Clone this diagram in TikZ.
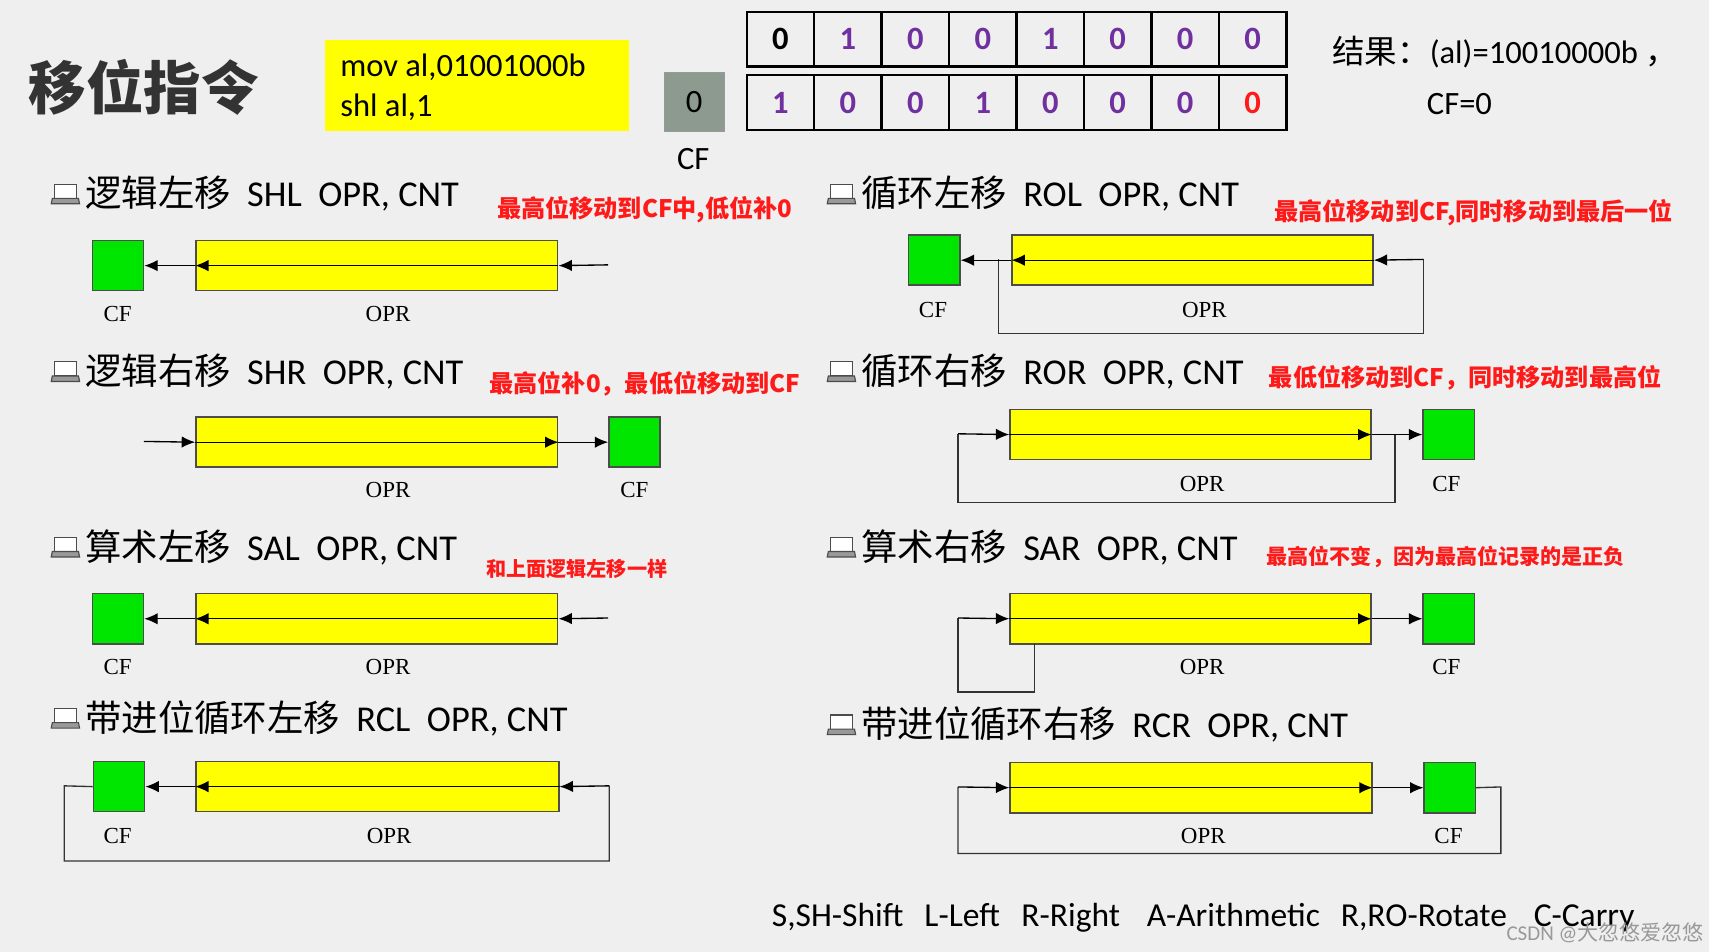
\documentclass[tikz,border=0pt]{standalone}
\usepackage{fontspec}
\setmainfont{Carlito}
\newfontfamily\cjk{Noto Sans CJK SC}
\newfontfamily\tms{Liberation Serif}
\usetikzlibrary{arrows.meta}
\definecolor{bg}{HTML}{EFEFEF}
\definecolor{pur}{HTML}{7030A0}
\definecolor{grn}{HTML}{00E600}
\definecolor{ylw}{HTML}{FFFF00}
\definecolor{redt}{HTML}{FF1A1A}
\definecolor{gbox}{HTML}{8C9A8F}
\begin{document}
\begin{tikzpicture}[x=0.02cm,y=-0.02cm,
  reg/.style={draw=black!70,line width=0.8pt,fill=ylw,minimum width=332*0.02cm,minimum height=46*0.02cm,inner sep=0pt,anchor=north west},
  cf/.style={draw=black!70,line width=0.8pt,fill=grn,minimum width=47*0.02cm,minimum height=46*0.02cm,inner sep=0pt,anchor=north west},
  ar/.style={-{Latex[length=7pt,width=6pt]},line width=0.7pt},
  ln/.style={line width=0.7pt,draw=black!80},
  lab/.style={font=\tms\fontsize{12}{12}\selectfont},
  head/.style={anchor=west,font=\fontsize{19}{19}\selectfont},
  note/.style={anchor=west,text=redt,font=\cjk\bfseries\fontsize{12.6}{12.6}\selectfont},
  leg/.style={anchor=base west,font=\fontsize{17.5}{17.5}\selectfont},
  cell/.style={draw=black,line width=1.2pt,minimum width=61.9*0.02cm,minimum height=50*0.02cm,inner sep=0pt,anchor=north west,font=\bfseries\fontsize{17}{17}\selectfont},
  icon/.pic={\draw[black!70,line width=0.6pt,fill=white] (-10,-9) rectangle (10,4);
    \draw[black!70,line width=0.6pt,fill=black!40] (-12,4) -- (12,4) -- (13,9) -- (-13,9) -- cycle;}
]
\fill[bg] (0,0) rectangle (1568,873);
\useasboundingbox (0,0) rectangle (1568,873);

% title
\node[anchor=center,font=\cjk\bfseries\fontsize{30}{30}\selectfont,text=black!80] (title) at (132,80) {移位指令};
\node[fill=ylw,minimum width=279*0.02cm,minimum height=84*0.02cm,anchor=north west,inner sep=0pt] (code) at (298,36) {};
\node[anchor=west,font=\fontsize{17}{17}\selectfont] (c1) at (306,62) {mov al,01001000b};
\node[anchor=west,font=\fontsize{17}{17}\selectfont] (c2) at (306,98) {shl al,1};
\node[fill=gbox,draw=black!40,minimum width=55*0.02cm,minimum height=54*0.02cm,inner sep=0pt,anchor=north west,font=\fontsize{17}{17}\selectfont] (g0) at (609,66) {0};
\node[font=\fontsize{17}{17}\selectfont] (gcf) at (636,146) {CF};
\foreach \v/\c [count=\i from 0] in {0/black,1/pur,0/pur,0/pur,1/pur,0/pur,0/pur,0/pur}
  \node[cell,text=\c] (a\i) at (684+61.9*\i,10) {\v};
\foreach \v/\c [count=\i from 0] in {1/pur,0/pur,0/pur,1/pur,0/pur,0/pur,0/pur,0/redt}
  \node[cell,text=\c] (b\i) at (684+61.9*\i,68) {\v};
\node[anchor=west,font=\fontsize{17}{17}\selectfont] (res) at (1216,48) {{\cjk 结果：}(al)=10010000b {\cjk ，}};
\node[anchor=west,font=\fontsize{17}{17}\selectfont] (res2) at (1303,95) {CF=0};

% headings
\pic at (60,178) {icon};
\node[head] (h1) at (72,178) {{\cjk 逻辑左移}\ \ SHL\ \ OPR, CNT};
\node[note] (n1) at (450,192) {最高位移动到CF中,低位补0};
\pic at (60,341) {icon};
\node[head] (h2) at (72,341) {{\cjk 逻辑右移}\ \ SHR\ \ OPR, CNT};
\node[note] (n2) at (443,352) {最高位补0，最低位移动到CF};
\pic at (60,502) {icon};
\node[head] (h3) at (72,502) {{\cjk 算术左移}\ \ SAL\ \ OPR, CNT};
\node[note,font=\cjk\bfseries\fontsize{10.5}{10.5}\selectfont] (n3) at (440,522) {和上面逻辑左移一样};
\pic at (60,659) {icon};
\node[head] (h4) at (72,659) {{\cjk 带进位循环左移}\ \ RCL\ \ OPR, CNT};
\pic at (772,178) {icon};
\node[head] (h5) at (784,178) {{\cjk 循环左移}\ \ ROL\ \ OPR, CNT};
\node[note] (n5) at (1163,195) {最高位移动到CF,同时移动到最后一位};
\pic at (772,341) {icon};
\node[head] (h6) at (784,341) {{\cjk 循环右移}\ \ ROR\ \ OPR, CNT};
\node[note] (n6) at (1158,347) {最低位移动到CF，同时移动到最高位};
\pic at (772,502) {icon};
\node[head] (h7) at (784,502) {{\cjk 算术右移}\ \ SAR\ \ OPR, CNT};
\node[note,font=\cjk\bfseries\fontsize{11}{11}\selectfont] (n7) at (1156,511) {最高位不变，因为最高位记录的是正负};
\pic at (772,665) {icon};
\node[head] (h8) at (784,665) {{\cjk 带进位循环右移}\ \ RCR\ \ OPR, CNT};

% SHL
\node[cf] (cf1) at (84,220) {};
\node[reg] (r1) at (179,220) {};
\coordinate (s1) at (558,243);
\draw[ar] (s1) -- (r1.east);
\draw[ar] (r1.east) -- (r1.west);
\draw[ar] (r1.west) -- (cf1.east);
\node[lab] (l1a) at (108,288) {CF};
\node[lab] (l1b) at (356,288) {OPR};

% SHR
\node[reg] (r2) at (179,382) {};
\node[cf] (cf2) at (558,382) {};
\coordinate (s2) at (132,405);
\draw[ar] (s2) -- (r2.west);
\draw[ar] (r2.west) -- (r2.east);
\draw[ar] (r2.east) -- (cf2.west);
\node[lab] (l2a) at (356,450) {OPR};
\node[lab] (l2b) at (582,450) {CF};

% SAL
\node[cf] (cf3) at (84,544) {};
\node[reg] (r3) at (179,544) {};
\coordinate (s3) at (558,567);
\draw[ar] (s3) -- (r3.east);
\draw[ar] (r3.east) -- (r3.west);
\draw[ar] (r3.west) -- (cf3.east);
\node[lab] (l3a) at (108,612) {CF};
\node[lab] (l3b) at (356,612) {OPR};

% RCL
\node[cf] (cf4) at (85,698) {};
\node[reg,minimum width=333*0.02cm] (r4) at (179,698) {};
\draw[ln] (cf4.west) -- (59,721) -- (59,790) -- (559,790) -- (559,721) coordinate (k4);
\draw[ar] (k4) -- (r4.east);
\draw[ar] (r4.east) -- (r4.west);
\draw[ar] (r4.west) -- (cf4.east);
\node[lab] (l4a) at (108,767) {CF};
\node[lab] (l4b) at (357,767) {OPR};

% ROL
\node[cf] (cf5) at (833,215) {};
\node[reg,minimum width=331*0.02cm] (r5) at (928,215) {};
\draw[ln] (916,238) -- (916,306) -- (1306,306) -- (1306,238) coordinate (k5);
\draw[ar] (k5) -- (r5.east);
\draw[ar] (r5.east) -- (r5.west);
\draw[ar] (r5.west) -- (cf5.east);
\node[lab] (l5a) at (856,284) {CF};
\node[lab] (l5b) at (1105,284) {OPR};

% ROR
\node[reg,minimum width=331*0.02cm] (r6) at (926,375) {};
\node[cf] (cf6) at (1305,375) {};
\draw[ln] (1280,398) -- (1280,461) -- (879,461) -- (879,398) coordinate (k6);
\draw[ar] (k6) -- (r6.west);
\draw[ar] (r6.west) -- (r6.east);
\draw[ar] (r6.east) -- (cf6.west);
\node[lab] (l6a) at (1103,444) {OPR};
\node[lab] (l6b) at (1327,444) {CF};

% SAR
\node[reg,minimum width=331*0.02cm] (r7) at (926,544) {};
\node[cf] (cf7) at (1305,544) {};
\draw[ln] (949,590) -- (949,635) -- (879,635) -- (879,567) coordinate (k7);
\draw[ar] (k7) -- (r7.west);
\draw[ar] (r7.west) -- (r7.east);
\draw[ar] (r7.east) -- (cf7.west);
\node[lab] (l7a) at (1103,612) {OPR};
\node[lab] (l7b) at (1327,612) {CF};

% RCR
\node[reg] (r8) at (926,699) {};
\node[cf] (cf8) at (1306,699) {};
\draw[ln] (cf8.east) -- (1377,722) -- (1377,783) -- (879,783) -- (879,722) coordinate (k8);
\draw[ar] (k8) -- (r8.west);
\draw[ar] (r8.west) -- (r8.east);
\draw[ar] (r8.east) -- (cf8.west);
\node[lab] (l8a) at (1104,767) {OPR};
\node[lab] (l8b) at (1329,767) {CF};

% legend
\node[leg] (g1) at (702,850) {S,SH-Shift};
\node[leg] (g2) at (842,850) {L-Left};
\node[leg] (g3) at (931,850) {R-Right};
\node[leg] (g4) at (1046,850) {A-Arithmetic};
\node[leg] (g5) at (1224,850) {R,RO-Rotate};
\node[leg] (g6) at (1401,850) {C-Carry};
\node[anchor=west,text=black!40,font=\fontsize{11}{11}\selectfont] (wm) at (1376,856) {CSDN @{\cjk 大忽悠爱忽悠}};
\end{tikzpicture}
\end{document}
